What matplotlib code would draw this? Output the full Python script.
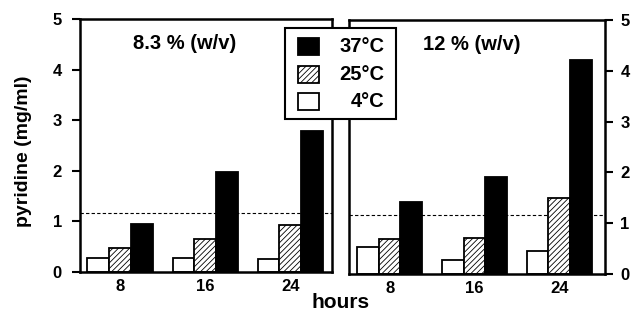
import matplotlib
matplotlib.use("Agg")
import matplotlib.pyplot as plt
import numpy as np
from matplotlib.patches import Rectangle

plt.rcParams['font.family'] = ['Liberation Sans', 'DejaVu Sans']
plt.rcParams['font.weight'] = 'bold'
plt.rcParams['hatch.linewidth'] = 0.6

hours = ['8', '16', '24']
temps = ['4°C', '25°C', '37°C']
left_4 = [0.28, 0.27, 0.25]
left_25 = [0.47, 0.65, 0.93]
left_37 = [0.95, 1.97, 2.78]
right_4 = [0.54, 0.28, 0.46]
right_25 = [0.68, 0.70, 1.49]
right_37 = [1.41, 1.90, 4.22]
left_title = '8.3 % (w/v)'
right_title = '12 % (w/v)'
threshold_left = 1.16
threshold_right = 1.17

W, H = 631, 314
fig = plt.figure(figsize=(W / 100, H / 100), dpi=100)

def px(x0, y0, x1, y1):
    return [x0 / W, 1 - y1 / H, (x1 - x0) / W, (y1 - y0) / H]

axL = fig.add_axes(px(80, 19, 332, 272))
axR = fig.add_axes(px(349, 20, 605, 274))

styles = [dict(facecolor='white', hatch=None),
          dict(facecolor='white', hatch='//////'),
          dict(facecolor='black', hatch=None)]

x = np.arange(len(hours))
bw = 0.255

def draw(ax, series, thr, title, xlim, tx):
    for i, (vals, st) in enumerate(zip(series, styles)):
        ax.bar(x + (i - 1) * bw, vals, bw, facecolor=st['facecolor'],
               hatch=st['hatch'], edgecolor='black', linewidth=1.3, zorder=2)
    ax.axhline(thr, color='black', linestyle=(0, (3, 2)), linewidth=0.8, zorder=1)
    ax.set_ylim(0, 5)
    ax.set_xlim(*xlim)
    ax.set_xticks(x)
    ax.set_xticklabels(hours, fontsize=12, fontweight='bold')
    ax.tick_params(axis='x', length=0, pad=5)
    for s in ax.spines.values():
        s.set_linewidth(1.8)
    ax.text(tx, 0.905, title, transform=ax.transAxes,
            ha='center', va='center', fontsize=14.5, fontweight='bold')

draw(axL, [left_4, left_25, left_37], threshold_left, left_title, (-0.47, 2.49), 0.415)
draw(axR, [right_4, right_25, right_37], threshold_right, right_title, (-0.48, 2.54), 0.48)

axL.set_yticks(range(6))
axL.set_yticklabels([str(v) for v in range(6)], fontsize=12, fontweight='bold')
axL.tick_params(axis='y', direction='out', length=6, width=1.5, pad=7)
axL.set_ylabel('pyridine (mg/ml)', fontsize=14, fontweight='bold')
axL.yaxis.set_label_coords(-0.19, 0.478)

axR.yaxis.tick_right()
axR.set_yticks(range(6))
axR.set_yticklabels([str(v) for v in range(6)], fontsize=12, fontweight='bold')
axR.tick_params(axis='y', direction='out', length=6, width=1.5, pad=5)

fig.text(341 / W, 1 - 302 / H, 'hours', ha='center', va='center',
         fontsize=15, fontweight='bold')

# Legend drawn manually in pixel positions
box = Rectangle((285 / W, 1 - 119 / H), (396 - 285) / W, (119 - 28) / H,
                transform=fig.transFigure, facecolor='white', edgecolor='black',
                linewidth=1.5, zorder=5)
fig.patches.append(box)
leg_entries = [(temps[2], styles[2], 38), (temps[1], styles[1], 66), (temps[0], styles[0], 93)]
for label, st, ytop in leg_entries:
    sq = Rectangle((298 / W, 1 - (ytop + 17) / H), 21 / W, 17 / H,
                   transform=fig.transFigure, facecolor=st['facecolor'],
                   hatch=st['hatch'], edgecolor='black', linewidth=1.3, zorder=6)
    fig.patches.append(sq)
    fig.text(384 / W, 1 - (ytop + 8.5) / H, label, ha='right', va='center',
             fontsize=14.5, fontweight='bold', zorder=7)

fig.savefig('out.png', dpi=100)
